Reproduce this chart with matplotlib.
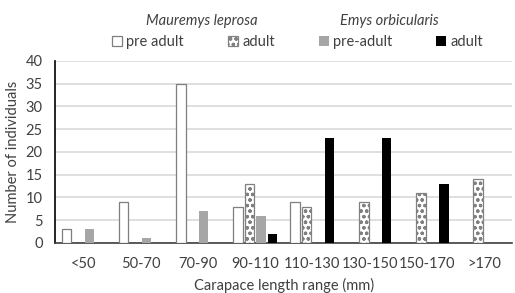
import matplotlib.pyplot as plt
import matplotlib.patches as mpatches
import numpy as np

categories = ['<50', '50-70', '70-90', '90-110', '110-130', '130-150', '150-170', '>170']
maur_pre = [3, 9, 35, 8, 9, 0, 0, 0]
maur_adult = [0, 0, 0, 13, 8, 9, 11, 14]
emys_pre = [3, 1, 7, 6, 0, 0, 0, 0]
emys_adult = [0, 0, 0, 2, 23, 23, 13, 0]

plt.rcParams['font.family'] = ['Lato', 'DejaVu Sans']
plt.rcParams['hatch.linewidth'] = 0.9

fig = plt.figure(figsize=(5.15, 2.93), dpi=100)
ax = fig.add_axes([0.107, 0.171, 0.888, 0.621])

x = np.arange(len(categories))
w = 0.165
styles = [
    dict(facecolor='white', edgecolor='#7f7f7f', linewidth=0.9),
    dict(facecolor='white', edgecolor='#808080', hatch='ooo', linewidth=0.9),
    dict(facecolor='#a6a6a6', edgecolor='none'),
    dict(facecolor='black', edgecolor='none'),
]
series = [maur_pre, maur_adult, emys_pre, emys_adult]
offsets = [-0.3, -0.1, 0.1, 0.3]
for vals, off, st in zip(series, offsets, styles):
    bars = ax.bar(x + off, vals, w, zorder=3, **st)
    # hide empty bars so their outline does not show on the axis
    for p in bars.patches:
        if p.get_height() == 0:
            p.set_visible(False)

ax.set_xlim(-0.5, len(categories) - 0.5)
ax.set_ylim(0, 40)
ax.set_yticks(range(0, 41, 5))
ax.set_xticks(x)
ax.set_xticklabels(categories)
ax.tick_params(axis='both', length=0, labelsize=10.5, colors='#404040')
ax.tick_params(axis='x', pad=10)
ax.tick_params(axis='y', pad=9)
ax.yaxis.grid(True, color='#d9d9d9', linewidth=1.2, zorder=0)
ax.set_axisbelow(True)
for s in ['top', 'right']:
    ax.spines[s].set_visible(False)
ax.spines['left'].set_color('black')
ax.spines['left'].set_linewidth(1.2)
ax.spines['bottom'].set_color('#404040')
ax.spines['bottom'].set_linewidth(1.2)

ax.set_ylabel('Number of individuals', fontsize=10.5, color='#404040', labelpad=4)
ax.set_xlabel('Carapace length range (mm)', fontsize=10.5, color='#404040', labelpad=5)

fig.text(0.391, 0.915, 'Mauremys leprosa', fontsize=10.5, style='italic', ha='center', color='#404040')
fig.text(0.757, 0.915, 'Emys orbicularis', fontsize=10.5, style='italic', ha='center', color='#404040')

handles = [mpatches.Patch(**st) for st in styles]
fig.legend(handles, ['pre adult', 'adult', 'pre-adult', 'adult'],
           ncol=4, loc='center left', bbox_to_anchor=(0.217, 0.857), frameon=False,
           fontsize=10.5, handlelength=0.7, handleheight=0.7, handletextpad=0.3,
           columnspacing=3.0, borderpad=0, borderaxespad=0, labelcolor='#404040')

fig.savefig('out.png', dpi=100)
